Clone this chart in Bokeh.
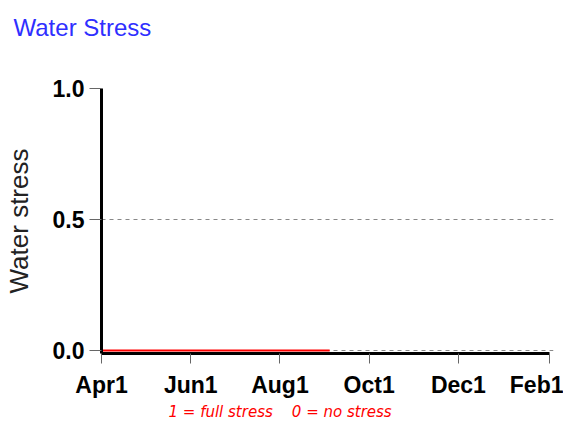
import pandas as pd
from bokeh.plotting import figure
from bokeh.models import Range1d, FixedTicker, Title
from bokeh.embed import file_html
from bokeh.resources import INLINE

# ---- data ----
start_date = "2001-04-01"
tick_dates = ["2001-04-01", "2001-06-01", "2001-08-01", "2001-10-01", "2001-12-01", "2002-02-01"]
tick_labels = ["Apr1", "Jun1", "Aug1", "Oct1", "Dec1", "Feb1"]
stress_dates = ["2001-04-01", "2001-09-04"]
stress_values = [0.0, 0.0]
y_ticks = [0.0, 0.5, 1.0]
y_tick_labels = ["0.0", "0.5", "1.0"]
note_text = "1 = full stress\u00a0\u00a0\u00a0 0 = no stress"

t0 = pd.Timestamp(start_date)
tick_days = [int((pd.Timestamp(d) - t0).days) for d in tick_dates]
stress_days = [int((pd.Timestamp(d) - t0).days) for d in stress_dates]

p = figure(width=563, height=420, output_backend="svg", toolbar_location=None,
           x_range=Range1d(0, tick_days[-1] + 3), y_range=Range1d(-0.011, 1.0),
           min_border_left=101, min_border_right=10, min_border_top=88, min_border_bottom=65)
p.outline_line_color = None
p.background_fill_color = "white"
p.border_fill_color = "white"

# spacer (nearest the frame) then title (outermost)
spacer = Title(text=" ", text_font_size="2px", standoff=33)
p.add_layout(spacer, "above")
t = Title(text="Water Stress", text_font="Liberation Sans", text_font_size="24px",
          text_font_style="normal", text_color="#2f2fff", align="left", offset=-88,
          standoff=22, vertical_align="bottom")
p.add_layout(t, "above")

# note below the axis
note = Title(text=note_text, text_font="DejaVu Sans",
             text_font_size="15px", text_font_style="italic", text_color="red",
             align="left", offset=67, standoff=0, vertical_align="bottom")
p.add_layout(note, "below")

# grid
p.xgrid.grid_line_color = None
p.ygrid.grid_line_color = "#888888"
p.ygrid.grid_line_dash = "4 4"
p.ygrid.grid_line_width = 1
p.ygrid.ticker = FixedTicker(ticks=y_ticks)

# x axis
xa = p.xaxis[0]
xa.ticker = FixedTicker(ticks=tick_days)
xa.major_label_overrides = {d: l for d, l in zip(tick_days, tick_labels)}
xa.bounds = (tick_days[0], tick_days[-1])
xa.axis_line_color = "black"
xa.axis_line_width = 3
xa.major_tick_line_color = "#666666"
xa.major_tick_out = 10
xa.major_tick_in = 0
xa.minor_tick_line_color = None
xa.major_label_standoff = 8
xa.major_label_text_font = "Liberation Sans"
xa.major_label_text_font_size = "23px"
xa.major_label_text_font_style = "bold"
xa.major_label_text_color = "black"

# y axis
ya = p.yaxis[0]
ya.ticker = FixedTicker(ticks=y_ticks)
ya.major_label_overrides = {v: l for v, l in zip(y_ticks, y_tick_labels)}
ya.axis_line_color = "black"
ya.axis_line_width = 3
ya.major_tick_line_color = "#666666"
ya.major_tick_out = 12
ya.major_tick_in = 0
ya.minor_tick_line_color = None
ya.major_label_standoff = 5
ya.major_label_text_font = "Liberation Sans"
ya.major_label_text_font_size = "23px"
ya.major_label_text_font_style = "bold"
ya.major_label_text_color = "black"
ya.axis_label = "Water stress"
ya.axis_label_text_font = "Liberation Sans"
ya.axis_label_text_font_size = "26px"
ya.axis_label_text_font_style = "normal"
ya.axis_label_text_color = "#222222"
ya.axis_label_standoff = 16

# series
p.line(x=stress_days, y=stress_values, line_color="red", line_width=2)

open("out.html", "w").write(file_html(p, INLINE))
